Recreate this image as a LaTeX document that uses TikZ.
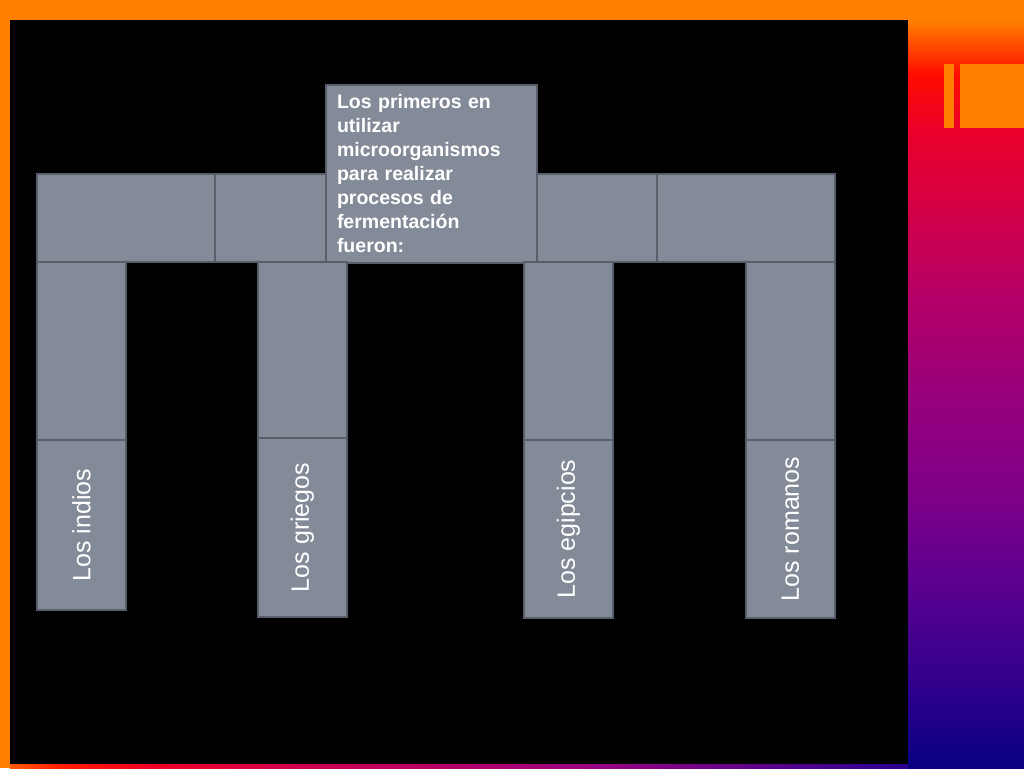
\documentclass[tikz,border=0pt]{standalone}
\usepackage{fontspec}
\setmainfont{Liberation Sans}
\usetikzlibrary{positioning}
\definecolor{boxfill}{RGB}{131,139,152}
\definecolor{boxline}{RGB}{88,94,106}
\definecolor{sA}{RGB}{255,128,0}
\definecolor{sB}{RGB}{255,12,0}
\definecolor{sC}{RGB}{235,0,42}
\definecolor{sD}{RGB}{214,0,66}
\definecolor{sE}{RGB}{180,0,105}
\definecolor{sF}{RGB}{150,0,124}
\definecolor{sG}{RGB}{124,0,136}
\definecolor{sH}{RGB}{92,0,144}
\definecolor{sI}{RGB}{50,0,140}
\definecolor{sJ}{RGB}{8,0,128}
\definecolor{bA}{RGB}{255,90,0}
\definecolor{bB}{RGB}{255,30,0}
\definecolor{bC}{RGB}{238,0,35}
\definecolor{bD}{RGB}{208,0,78}
\definecolor{bE}{RGB}{150,0,130}
\definecolor{bF}{RGB}{40,0,145}
\pgfdeclareverticalshading{sidestrip}{100bp}{color(0bp)=(sJ); color(25bp)=(sJ); color(30.73bp)=(sI); color(37.24bp)=(sH); color(42.45bp)=(sG); color(48.96bp)=(sF); color(55.47bp)=(sE); color(61.98bp)=(sD); color(66.54bp)=(sC); color(70.12bp)=(sB); color(73.7bp)=(sA); color(100bp)=(sA)}
\pgfdeclarehorizontalshading{bottomstrip}{100bp}{color(0bp)=(bA); color(25bp)=(bA); color(27.78bp)=(bB); color(32.8bp)=(bC); color(41.15bp)=(bD); color(57.85bp)=(bE); color(75bp)=(bF); color(100bp)=(bF)}
\tikzstyle{main}     = [rectangle, inner sep=0pt, outer sep=0pt, line width=1.5pt]
\tikzstyle{cgray}    = [fill=boxfill, draw=boxline]
\tikzstyle{beam}     = [main, minimum height=88pt]
\tikzstyle{pillar}   = [main, minimum width=89pt]
\tikzstyle{pillarlabel} = [inner sep=0pt, text=white, font=\fontsize{25}{30}\selectfont, rotate=90]
\tikzstyle{titlebox} = [main, minimum width=211pt, minimum height=178pt, inner xsep=11pt, text width=189pt, align=left, text=white, font=\fontsize{19.5}{24}\selectfont\bfseries]

\begin{document}
\begin{tikzpicture}[x=1pt, y=1pt]
     \useasboundingbox (0,0) rectangle (1024,768);
     % fond
     \fill[sA] (0,0) rectangle (1024,768);
     \shade[shading=sidestrip] (908,0) rectangle (1024,768);
     \shade[shading=bottomstrip] (10,0) rectangle (908,4);
     \fill[sA] (944,640) rectangle (954,704);
     \fill[sA] (960,640) rectangle (1024,704);
     \fill[black] (10,4) rectangle (908,748);
     % linteau
     \draw
       node[beam, cgray, minimum width=178pt] (beamA) at (126,550)   {}
       node[beam, cgray, minimum width=111pt] (beamB) at (270.5,550) {}
       node[beam, cgray, minimum width=120pt] (beamD) at (597,550)   {}
       node[beam, cgray, minimum width=178pt] (beamE) at (746,550)   {};
     \node[titlebox, cgray] (title) at (431.5,594)
       {Los primeros en\\utilizar\\microorganismos\\para realizar\\procesos de\\fermentación\\fueron:};
     % colonnes
     \draw
       node[pillar, cgray, minimum height=178pt] (indiosUp)   at (81.5,417)  {}
       node[pillar, cgray, minimum height=176pt] (griegosUp)  at (302.5,418) {}
       node[pillar, cgray, minimum height=178pt] (egipciosUp) at (568.5,417) {}
       node[pillar, cgray, minimum height=178pt] (romanosUp)  at (790.5,417) {};
     \draw
       node[pillar, cgray, minimum height=170pt, below=0pt of indiosUp]   (indios)   {}
       node[pillar, cgray, minimum height=179pt, below=0pt of griegosUp]  (griegos)  {}
       node[pillar, cgray, minimum height=178pt, below=0pt of egipciosUp] (egipcios) {}
       node[pillar, cgray, minimum height=178pt, below=0pt of romanosUp]  (romanos)  {};
     \node[pillarlabel] (indiosText)   at (indios)   {Los indios};
     \node[pillarlabel] (griegosText)  at (griegos)  {Los griegos};
     \node[pillarlabel] (egipciosText) at (egipcios) {Los egipcios};
     \node[pillarlabel] (romanosText)  at (romanos)  {Los romanos};
\end{tikzpicture}
\end{document}
